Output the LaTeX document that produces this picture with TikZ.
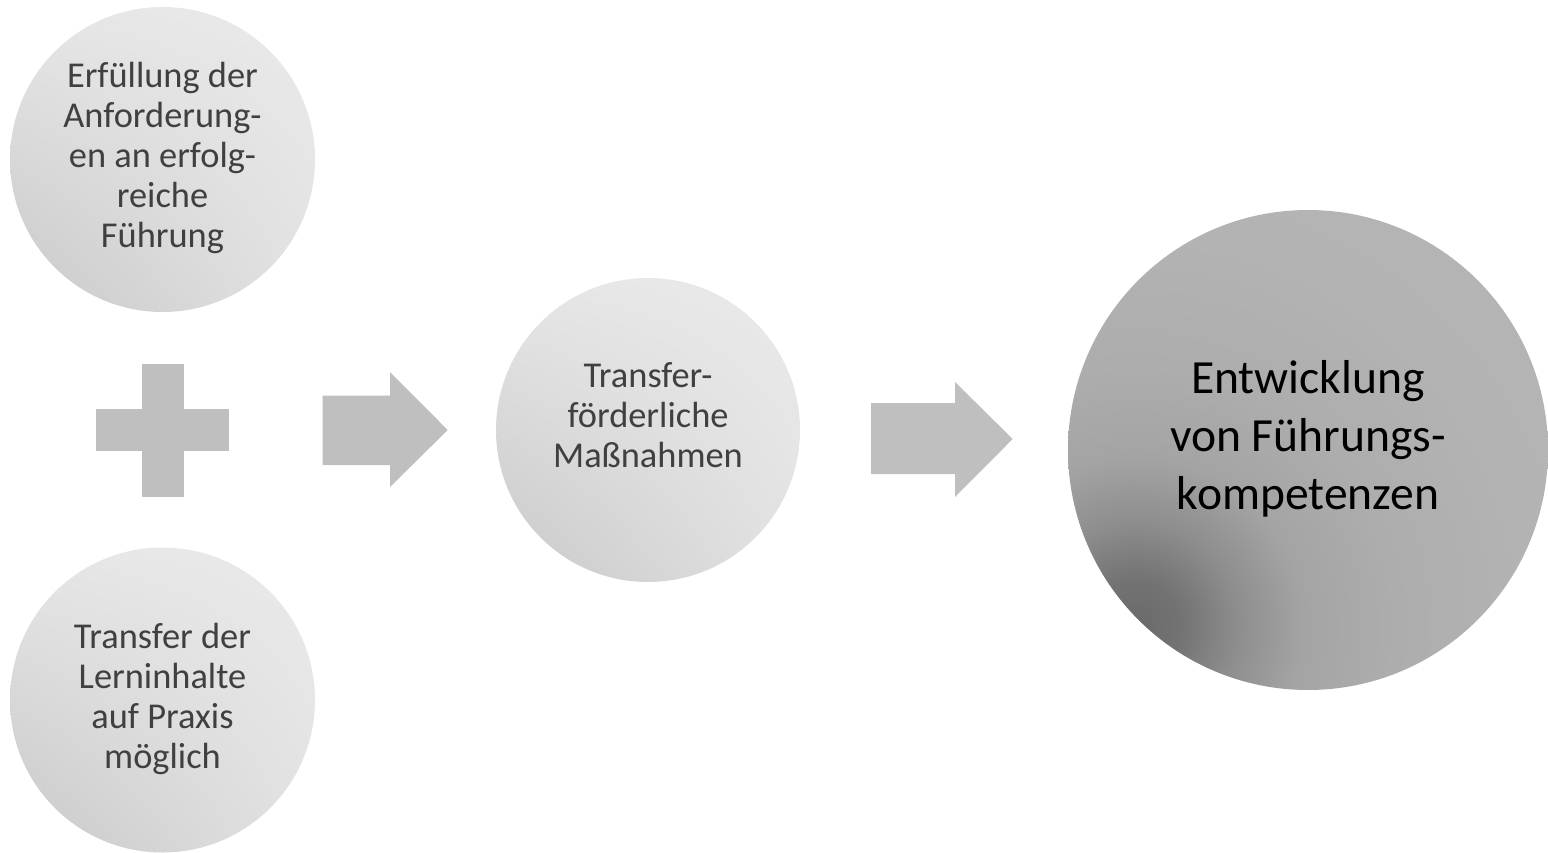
\documentclass[tikz,border=0pt]{standalone}
\usepackage{fontspec}
\setmainfont{Carlito}
\usetikzlibrary{shadings}
\definecolor{shapegray}{HTML}{BFBFBF}
\definecolor{txtgray}{HTML}{404040}
\definecolor{lUR}{HTML}{EAEAEA}
\definecolor{lUL}{HTML}{E6E6E6}
\definecolor{lLR}{HTML}{E2E2E2}
\definecolor{lLL}{HTML}{C8C8C8}
\definecolor{dA}{HTML}{6A6A6A}
\definecolor{dA2}{HTML}{737373}
\definecolor{dB}{HTML}{8E8E8E}
\definecolor{dC}{HTML}{A4A4A4}
\definecolor{dD}{HTML}{ADADAD}
\definecolor{dE}{HTML}{B3B3B3}
\definecolor{dF}{HTML}{B6B6B6}
\pgfdeclareradialshading{darkspot}{\pgfpoint{0bp}{0bp}}{%
  color(0bp)=(dA); color(1.8bp)=(dA2); color(4bp)=(dB); color(6.5bp)=(dC);
  color(10bp)=(dD); color(15bp)=(dE); color(25bp)=(dF); color(50bp)=(dF)}
\tikzset{
  lightbubble/.style={circle, inner sep=0pt, minimum size=305pt, shade,
    upper right=lUR, upper left=lUL, lower right=lLR, lower left=lLL},
  bubbletext/.style={align=center, text=txtgray, inner sep=0pt,
    font=\fontsize{36.4}{40}\selectfont},
  bigtext/.style={align=center, text=black, inner sep=0pt,
    font=\fontsize{47.6}{58}\selectfont},
  blockshape/.style={fill=shapegray, draw=none},
}
\begin{document}
\begin{tikzpicture}[x=1pt,y=-1pt]
\useasboundingbox (0,0) rectangle (1548,853);
% left circles
\node[lightbubble] (c1) at (162.5,159.5) {};
\node[bubbletext] (t1) at (162.5,158) {Erfüllung der\\Anforderung-\\en an erfolg-\\reiche\\Führung};
\node[lightbubble] (c2) at (162.5,700) {};
\node[bubbletext] (t2) at (162.5,699) {Transfer der\\Lerninhalte\\auf Praxis\\möglich};
% middle circle
\node[lightbubble, minimum size=304pt] (c3) at (648,430) {};
\node[bubbletext] (t3) at (648,415) {Transfer-\\förderliche\\Maßnahmen};
% right circle
\begin{scope}
  \clip (1308,450) circle (240);
  \shade[shading=darkspot] (1135,625) circle (650);
\end{scope}
\node[circle, inner sep=0pt, minimum size=480pt] (c4) at (1308,450) {};
\node[bigtext] (t4) at (1308,439) {Entwicklung\\von Führungs-\\kompetenzen};
% plus sign
\fill[blockshape] (141.7,364) rectangle (184,496.7);
\fill[blockshape] (96,409) rectangle (229,451);
% arrows
\fill[blockshape] (322.7,395.7) -- (390,395.7) -- (390,372) -- (447.7,430)
  -- (390,487) -- (390,465) -- (322.7,465) -- cycle;
\fill[blockshape] (871,403) -- (955,403) -- (955,382) -- (1012.7,439)
  -- (955,497) -- (955,474) -- (871,474) -- cycle;
\end{tikzpicture}
\end{document}
